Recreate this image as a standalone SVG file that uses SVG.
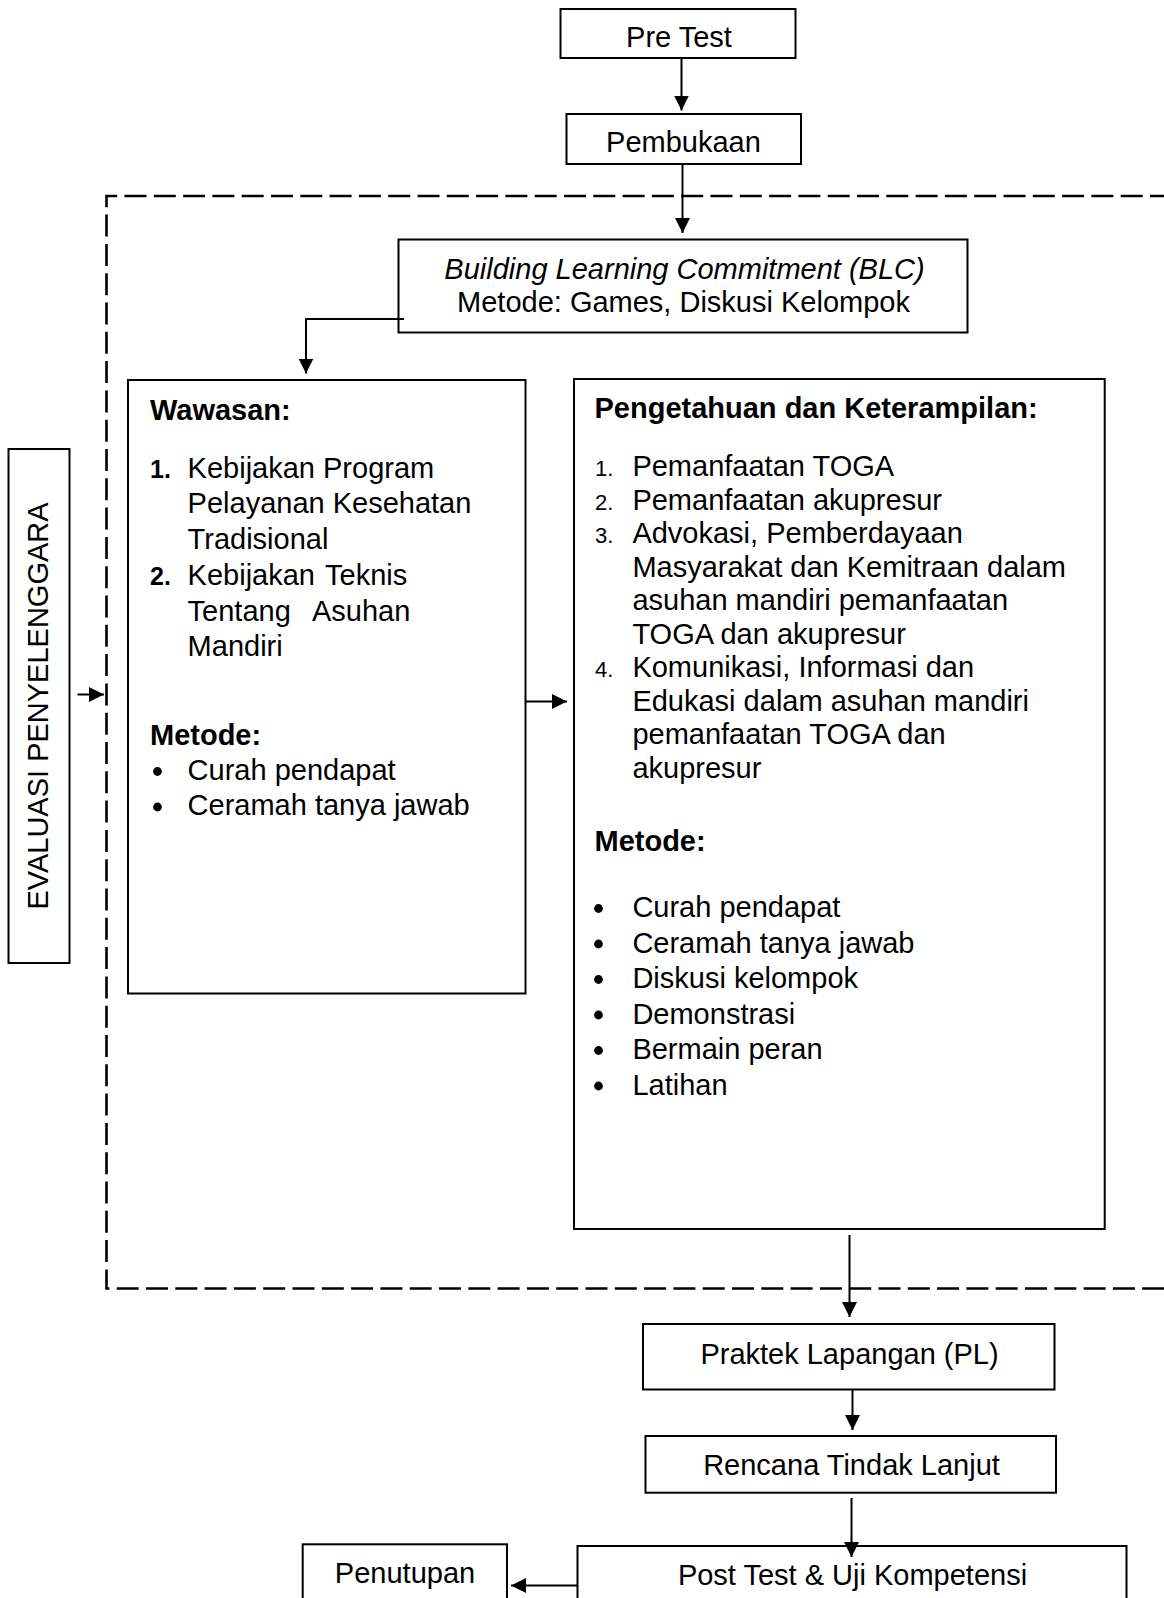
<svg xmlns="http://www.w3.org/2000/svg" width="1164" height="1598" viewBox="0 0 1164 1598">
<defs>
<style>
.box{fill:#fff;stroke:#000;stroke-width:2}
.t{font-family:"Liberation Sans",Arial,sans-serif;font-size:29px;fill:#000}
.c{text-anchor:middle}
.b{font-weight:bold}
.i{font-style:italic}
.nb{font-family:"Liberation Sans",Arial,sans-serif;font-size:25px;font-weight:bold;fill:#000}
.n{font-family:"Liberation Sans",Arial,sans-serif;font-size:22px;fill:#000}
.con{fill:none;stroke:#000;stroke-width:2}
.dash{fill:none;stroke:#000;stroke-width:2.6;stroke-dasharray:22 7.3}
.dot{fill:#000}
</style>
<marker id="ah" markerUnits="userSpaceOnUse" markerWidth="15" markerHeight="15" refX="15" refY="7.5" orient="auto">
<path d="M0,0 L15,7.5 L0,15 Z" fill="#000"/>
</marker>
</defs>
<rect x="0" y="0" width="1164" height="1598" fill="#fff"/>

<g id="frame">
<path class="dash" d="M1172,196 H106.5 V1288.5 H1172"/>
</g>

<g id="pretest">
<rect class="box" x="560.5" y="9" width="235" height="49"/>
<text class="t c" x="679" y="47">Pre Test</text>
</g>

<g id="pembukaan">
<rect class="box" x="566.5" y="114" width="234.5" height="50"/>
<text class="t c" x="683.5" y="152">Pembukaan</text>
</g>

<g id="blc">
<rect class="box" x="398.5" y="239.5" width="569" height="93"/>
<text class="t c i" x="684.5" y="278.5">Building Learning Commitment (BLC)</text>
<text class="t c" x="683.5" y="312">Metode: Games, Diskusi Kelompok</text>
</g>

<g id="evaluasi">
<rect class="box" x="8.5" y="449" width="61" height="514"/>
<text class="t c" transform="translate(47.5,706) rotate(-90)">EVALUASI PENYELENGGARA</text>
</g>

<g id="wawasan">
<rect class="box" x="128" y="380" width="397.5" height="613.5"/>
<text class="t b" x="150" y="420">Wawasan:</text>
<text class="nb" x="150" y="477.5">1.</text>
<text class="t" x="187.6" y="477.5">Kebijakan Program</text>
<text class="t" x="187.6" y="513.3">Pelayanan Kesehatan</text>
<text class="t" x="187.6" y="549">Tradisional</text>
<text class="nb" x="150" y="584.8">2.</text>
<text class="t" x="187.6" y="584.8">Kebijakan</text>
<text class="t" x="325" y="584.8">Teknis</text>
<text class="t" x="187.6" y="620.6">Tentang</text>
<text class="t" x="312" y="620.6">Asuhan</text>
<text class="t" x="187.6" y="656.4">Mandiri</text>
<text class="t b" x="150" y="744.5">Metode:</text>
<circle class="dot" cx="157.5" cy="771.5" r="4.4"/>
<text class="t" x="187.6" y="779.5">Curah pendapat</text>
<circle class="dot" cx="157.5" cy="807" r="4.4"/>
<text class="t" x="187.6" y="815">Ceramah tanya jawab</text>
</g>

<g id="pengetahuan">
<rect class="box" x="574" y="379" width="530.7" height="850"/>
<text class="t b" x="594.5" y="418">Pengetahuan dan Keterampilan:</text>
<text class="n" x="595" y="476">1.</text>
<text class="t" x="632.4" y="476">Pemanfaatan TOGA</text>
<text class="n" x="595" y="509.5">2.</text>
<text class="t" x="632.4" y="509.5">Pemanfaatan akupresur</text>
<text class="n" x="595" y="543">3.</text>
<text class="t" x="632.4" y="543">Advokasi, Pemberdayaan</text>
<text class="t" x="632.4" y="576.5">Masyarakat dan Kemitraan dalam</text>
<text class="t" x="632.4" y="610">asuhan mandiri pemanfaatan</text>
<text class="t" x="632.4" y="643.5">TOGA dan akupresur</text>
<text class="n" x="595" y="677">4.</text>
<text class="t" x="632.4" y="677">Komunikasi, Informasi dan</text>
<text class="t" x="632.4" y="710.5">Edukasi dalam asuhan mandiri</text>
<text class="t" x="632.4" y="744">pemanfaatan TOGA dan</text>
<text class="t" x="632.4" y="777.5">akupresur</text>
<text class="t b" x="594.5" y="851">Metode:</text>
<circle class="dot" cx="598.5" cy="908.5" r="4.4"/>
<text class="t" x="632.4" y="917">Curah pendapat</text>
<circle class="dot" cx="598.5" cy="944" r="4.4"/>
<text class="t" x="632.4" y="952.5">Ceramah tanya jawab</text>
<circle class="dot" cx="598.5" cy="979.5" r="4.4"/>
<text class="t" x="632.4" y="988">Diskusi kelompok</text>
<circle class="dot" cx="598.5" cy="1015" r="4.4"/>
<text class="t" x="632.4" y="1023.5">Demonstrasi</text>
<circle class="dot" cx="598.5" cy="1050.5" r="4.4"/>
<text class="t" x="632.4" y="1059">Bermain peran</text>
<circle class="dot" cx="598.5" cy="1086" r="4.4"/>
<text class="t" x="632.4" y="1094.5">Latihan</text>
</g>

<g id="praktek">
<rect class="box" x="643" y="1324" width="411.5" height="65.5"/>
<text class="t c" x="849.5" y="1364">Praktek Lapangan (PL)</text>
</g>

<g id="rencana">
<rect class="box" x="645.5" y="1436" width="410.5" height="56.7"/>
<text class="t c" x="851.5" y="1475">Rencana Tindak Lanjut</text>
</g>

<g id="posttest">
<rect class="box" x="577.5" y="1546" width="549" height="70"/>
<text class="t c" x="852.5" y="1585">Post Test &amp; Uji Kompetensi</text>
</g>

<g id="penutupan">
<rect class="box" x="302.7" y="1544.3" width="204.3" height="70"/>
<text class="t c" x="405" y="1583">Penutupan</text>
</g>

<g id="connectors">
<path class="con" d="M681.5,58 V110.5" marker-end="url(#ah)"/>
<path class="con" d="M682.5,164 V233" marker-end="url(#ah)"/>
<path class="con" d="M404,319 H306 V373.5" marker-end="url(#ah)"/>
<path class="con" d="M77.5,694.5 H104" marker-end="url(#ah)"/>
<path class="con" d="M525,701.5 H567" marker-end="url(#ah)"/>
<path class="con" d="M849.5,1235 V1317" marker-end="url(#ah)"/>
<path class="con" d="M852.5,1389 V1430" marker-end="url(#ah)"/>
<path class="con" d="M851.5,1498 V1557" marker-end="url(#ah)"/>
<path class="con" d="M577.5,1585.5 H511" marker-end="url(#ah)"/>
</g>
</svg>
